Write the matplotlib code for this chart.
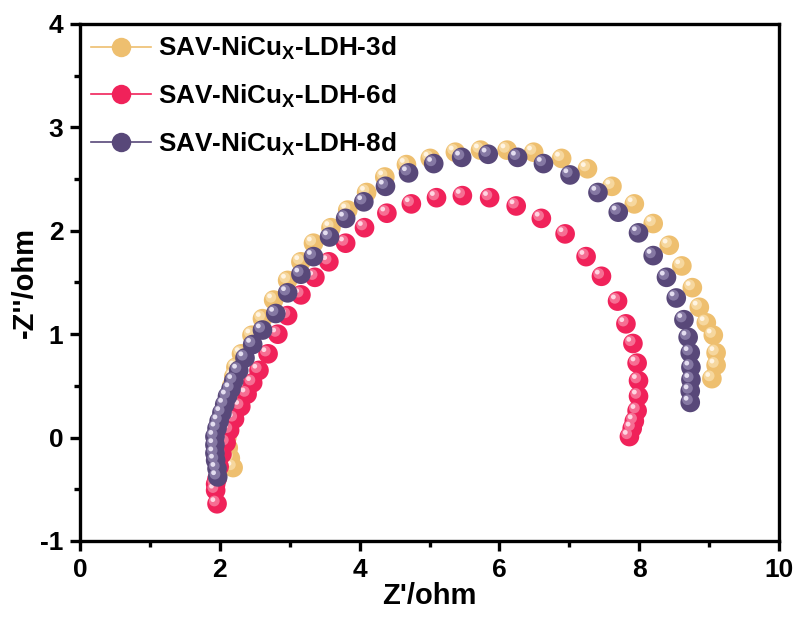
import matplotlib
matplotlib.use("Agg")
import matplotlib.pyplot as plt
import matplotlib.transforms as mtransforms
from matplotlib.lines import Line2D
from matplotlib.ticker import MultipleLocator

# Nyquist data: Z' (ohm) and -Z'' (ohm), high frequency -> low frequency
z_re_3d = [2.19, 2.15, 2.12, 2.10, 2.09, 2.10, 2.12, 2.14, 2.17, 2.20, 2.23, 2.31, 2.46,
           2.61, 2.77, 2.97, 3.16, 3.34, 3.59, 3.83, 4.10, 4.36, 4.67, 5.01, 5.37,
           5.73, 6.11, 6.49, 6.89, 7.26, 7.61, 7.93, 8.20, 8.43, 8.61, 8.76, 8.86,
           8.96, 9.06, 9.10, 9.10, 9.04]
z_im_3d = [-0.29, -0.20, -0.10, 0.00, 0.10, 0.20, 0.30, 0.40, 0.50, 0.59, 0.68, 0.81, 0.99,
           1.15, 1.33, 1.52, 1.70, 1.88, 2.03, 2.20, 2.37, 2.52, 2.64, 2.70, 2.76,
           2.78, 2.78, 2.76, 2.70, 2.60, 2.43, 2.26, 2.07, 1.86, 1.66, 1.45, 1.26,
           1.11, 0.99, 0.82, 0.70, 0.57]

z_re_6d = [1.96, 1.94, 1.94, 1.96, 1.99, 2.03, 2.09, 2.14, 2.21, 2.30, 2.39, 2.47, 2.56,
           2.69, 2.83, 2.97, 3.16, 3.36, 3.56, 3.80, 4.07, 4.39, 4.74, 5.10, 5.47,
           5.86, 6.24, 6.60, 6.94, 7.24, 7.46, 7.69, 7.81, 7.91, 7.97, 7.99, 7.99,
           7.97, 7.93, 7.90, 7.86]
z_im_6d = [-0.64, -0.51, -0.45, -0.40, -0.28, -0.16, -0.05, 0.07, 0.18, 0.30, 0.42, 0.53, 0.65,
           0.81, 1.00, 1.18, 1.38, 1.55, 1.70, 1.88, 2.03, 2.17, 2.26, 2.32, 2.34,
           2.32, 2.24, 2.12, 1.97, 1.75, 1.56, 1.32, 1.10, 0.91, 0.72, 0.55, 0.40,
           0.26, 0.16, 0.09, 0.01]

z_re_8d = [1.97, 1.96, 1.94, 1.93, 1.93, 1.93, 1.96, 1.99, 2.03, 2.07, 2.11, 2.16, 2.20,
           2.27, 2.36, 2.47, 2.61, 2.80, 2.97, 3.16, 3.34, 3.57, 3.80, 4.06, 4.37,
           4.70, 5.06, 5.46, 5.84, 6.26, 6.63, 7.01, 7.41, 7.70, 7.99, 8.20, 8.39,
           8.53, 8.64, 8.70, 8.73, 8.74, 8.74, 8.73, 8.73]
z_im_8d = [-0.38, -0.30, -0.22, -0.15, -0.07, 0.01, 0.09, 0.16, 0.24, 0.32, 0.40, 0.47, 0.55,
           0.65, 0.77, 0.90, 1.04, 1.20, 1.40, 1.58, 1.75, 1.94, 2.12, 2.28, 2.43,
           2.56, 2.65, 2.71, 2.74, 2.71, 2.65, 2.54, 2.37, 2.18, 1.98, 1.76, 1.55,
           1.35, 1.14, 0.97, 0.82, 0.68, 0.56, 0.45, 0.34]

labels = ["SAV-NiCu$_\\mathbf{X}$-LDH-3d", "SAV-NiCu$_\\mathbf{X}$-LDH-6d",
          "SAV-NiCu$_\\mathbf{X}$-LDH-8d"]

base_colors = ["#EEBF6F", "#F0225A", "#584879"]
mid_colors = ["#F6D79E", "#F66E93", "#8578A3"]
glint_colors = ["#FFF4E2", "#FFD6E2", "#E4DEF0"]

plt.rcParams["font.family"] = ["Liberation Sans", "DejaVu Sans"]
plt.rcParams["font.weight"] = "bold"
plt.rcParams["axes.unicode_minus"] = False
plt.rcParams["mathtext.fontset"] = "custom"
plt.rcParams["mathtext.rm"] = "Liberation Sans:bold"
plt.rcParams["mathtext.bf"] = "Liberation Sans:bold"

fig = plt.figure(figsize=(7.98, 6.18), dpi=100)
ax = fig.add_axes([0.1003, 0.1246, 0.8759, 0.8366])

marker_size = 200
series = [(z_re_3d, z_im_3d), (z_re_6d, z_im_6d), (z_re_8d, z_im_8d)]

# shaded sphere look: base disc, lighter cap shifted up-left, small glint
shift1 = mtransforms.ScaledTranslation(-2.0 / 72, 2.0 / 72, fig.dpi_scale_trans)
shift2 = mtransforms.ScaledTranslation(-3.0 / 72, 3.0 / 72, fig.dpi_scale_trans)
for i, (xs, ys) in enumerate(series):
    z = 2 + i * 3
    ax.scatter(xs, ys, s=marker_size, color=base_colors[i], edgecolors="none", zorder=z)
    ax.scatter(xs, ys, s=marker_size * 0.30, color=mid_colors[i], edgecolors="none",
               zorder=z + 1, transform=ax.transData + shift1)
    ax.scatter(xs, ys, s=marker_size * 0.06, color=glint_colors[i], edgecolors="none",
               zorder=z + 2, transform=ax.transData + shift2)

ax.set_xlim(0, 10)
ax.set_ylim(-1, 4)
ax.xaxis.set_major_locator(MultipleLocator(2))
ax.xaxis.set_minor_locator(MultipleLocator(1))
ax.yaxis.set_major_locator(MultipleLocator(1))
ax.yaxis.set_minor_locator(MultipleLocator(0.5))

for sp in ax.spines.values():
    sp.set_linewidth(2.4)
ax.tick_params(which="both", direction="out", width=2.4, top=False, right=False)
ax.tick_params(which="major", length=7, pad=5)
ax.tick_params(which="minor", length=4.5)

for lab in ax.get_xticklabels() + ax.get_yticklabels():
    lab.set_fontsize(19)
    lab.set_fontweight("bold")

ax.set_xlabel("Z'/ohm", fontsize=21, fontweight="bold", labelpad=0)
ax.set_ylabel("-Z''/ohm", fontsize=21, fontweight="bold", labelpad=1)

handles = [Line2D([0], [0], color=base_colors[i], lw=1.2, marker="o", markersize=14,
                  markerfacecolor=base_colors[i], markeredgecolor="none")
           for i in range(3)]
ax.legend(handles, labels, loc="upper left", bbox_to_anchor=(-0.008, 1.012), frameon=False,
          handlelength=2.3, handletextpad=0.25, labelspacing=0.78,
          borderaxespad=0.25, prop={"weight": "bold", "size": 18.8})

fig.savefig("out.png", dpi=100)
